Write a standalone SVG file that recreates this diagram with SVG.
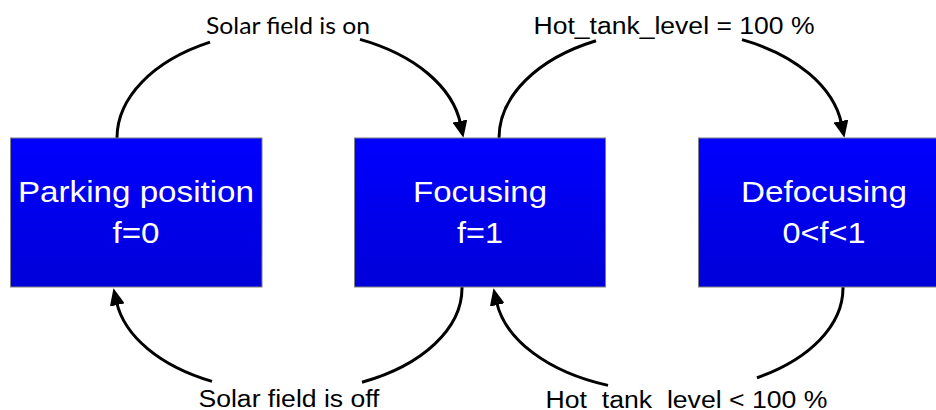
<svg xmlns="http://www.w3.org/2000/svg" width="936" height="410" viewBox="0 0 936 410">
  <defs>
    <linearGradient id="stateFill" x1="0" y1="0" x2="0" y2="1">
      <stop offset="0" stop-color="#0000ff"/>
      <stop offset="1" stop-color="#0000d8"/>
    </linearGradient>
    <marker id="arrow" markerUnits="userSpaceOnUse" viewBox="0 0 17 15" refX="3" refY="7.5" markerWidth="17" markerHeight="15" orient="auto">
      <path d="M0,0 L17,7.5 L0,15 z" fill="#000"/>
    </marker>
  </defs>
  <style>
    .state rect { fill: url(#stateFill); stroke: #808080; stroke-width: 1; }
    .state text { font-family: "Liberation Sans", Arial, sans-serif; font-size: 30px; fill: #fff; text-anchor: middle; }
    .edge { fill: none; stroke: #000; stroke-width: 3; marker-end: url(#arrow); }
    .lbl { font-family: "Liberation Sans", Arial, sans-serif; font-size: 23.5px; fill: #000; text-anchor: middle; }
    .lbl-c { font-family: Lato, "Open Sans", sans-serif; font-size: 23px; fill: #000; text-anchor: middle; }
  </style>

  <rect width="936" height="410" fill="#fff"/>

  <!-- transitions: elliptical arcs broken where the labels sit -->
  <g id="connectors">
    <path class="edge" d="M117,142 L117,138 A172.5,108 0 0 1 210,42.15 M360,39.43 A172.5,108 0 0 1 460.54,124"/>
    <path class="edge" d="M499,142 L499,138 A172,108 0 0 1 596,40.81 M742,39.63 A172,108 0 0 1 841.55,124"/>
    <path class="edge" d="M462,283 L462,288 A173.5,104 0 0 1 362,382.21 M212,381.34 A173.5,104 0 0 1 116.58,302"/>
    <path class="edge" d="M843,283 L843,288 A174,104 0 0 1 757,377.72 M608,385.4 A174,104 0 0 1 496.58,302"/>

    <text class="lbl-c" x="288" y="33.5" textLength="164" lengthAdjust="spacingAndGlyphs">Solar field is on</text>
    <text class="lbl" x="674" y="33.5" textLength="281" lengthAdjust="spacingAndGlyphs">Hot_tank_level = 100 %</text>
    <text class="lbl" x="289" y="406.8" textLength="181" lengthAdjust="spacingAndGlyphs">Solar field is off</text>
    <text class="lbl" x="686.5" y="407.5" textLength="282" lengthAdjust="spacingAndGlyphs">Hot_tank_level &lt; 100 %</text>
  </g>

  <g id="parking" class="state">
    <rect x="10.5" y="138" width="251.5" height="149"/>
    <text x="136" y="201.7" textLength="236" lengthAdjust="spacingAndGlyphs">Parking position</text>
    <text x="136" y="242.7" textLength="47" lengthAdjust="spacingAndGlyphs">f=0</text>
  </g>

  <g id="focusing" class="state">
    <rect x="354.5" y="138" width="251" height="149"/>
    <text x="480" y="201.7" textLength="134" lengthAdjust="spacingAndGlyphs">Focusing</text>
    <text x="480" y="242.7" textLength="46" lengthAdjust="spacingAndGlyphs">f=1</text>
  </g>

  <g id="defocusing" class="state">
    <rect x="698.5" y="138" width="252" height="149"/>
    <text x="824" y="201.7" textLength="166" lengthAdjust="spacingAndGlyphs">Defocusing</text>
    <text x="824" y="242.7" textLength="83" lengthAdjust="spacingAndGlyphs">0&lt;f&lt;1</text>
  </g>
</svg>
